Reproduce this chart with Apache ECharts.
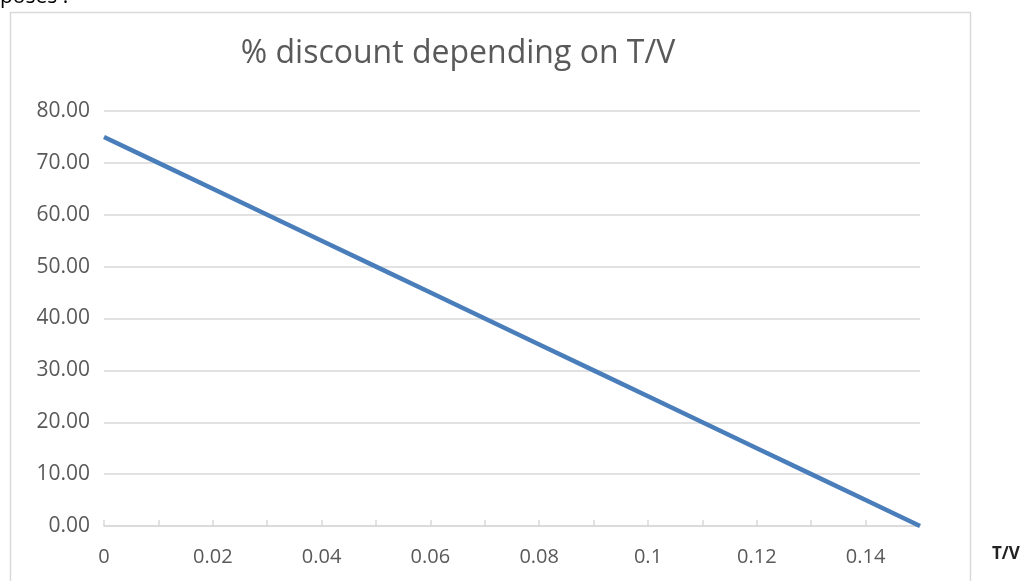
<!DOCTYPE html>
<html>
<head>
<meta charset="utf-8">
<script src="https://cdn.jsdelivr.net/npm/echarts@6/dist/echarts.min.js"></script>
<style>html,body{margin:0;padding:0;background:#fff}#c{width:1029px;height:581px}</style>
</head>
<body>
<div id="c"></div>
<script>
var titleText = '% discount depending on T/V';
var xAxisName = 'T/V';
var tvValues = [0, 0.01, 0.02, 0.03, 0.04, 0.05, 0.06, 0.07, 0.08, 0.09, 0.10, 0.11, 0.12, 0.13, 0.14, 0.15];
var discountValues = [75, 70, 65, 60, 55, 50, 45, 40, 35, 30, 25, 20, 15, 10, 5, 0];
var xTickLabels = ['0', '0.02', '0.04', '0.06', '0.08', '0.1', '0.12', '0.14'];
var yTickLabels = ['0.00', '10.00', '20.00', '30.00', '40.00', '50.00', '60.00', '70.00', '80.00'];

var chart = echarts.init(document.getElementById('c'));
var font = '"Open Sans", "Noto Sans", sans-serif';
var points = tvValues.map(function (x, i) { return [x, discountValues[i]]; });

chart.setOption({
  animation: false,
  textStyle: { fontFamily: font },
  title: {
    text: titleText,
    left: 453, top: 33, textAlign: 'center',
    textStyle: { fontFamily: font, fontSize: 32, fontWeight: 'normal', color: '#595959' }
  },
  graphic: [
    { type: 'rect', shape: { x: 10.5, y: 12.5, width: 960, height: 600 },
      style: { fill: 'none', stroke: '#d9d9d9', lineWidth: 1.5 }, silent: true },
    { type: 'text', left: 0, top: -13,
      style: { text: 'poses :', font: '21px ' + font, fill: '#000' } },
    { type: 'text', left: 992, top: 546,
      style: { text: xAxisName, font: 'bold 17px ' + font, fill: '#222' } }
  ],
  grid: { left: 104, right: 109, top: 111, bottom: 55, containLabel: false },
  xAxis: {
    type: 'value', min: 0, max: 0.15, interval: 0.01,
    axisLine: { show: true, lineStyle: { color: '#d9d9d9', width: 1.5 } },
    axisTick: { show: true, inside: true, length: 6, lineStyle: { color: '#d9d9d9', width: 1.5 } },
    splitLine: { show: false },
    axisLabel: {
      margin: 21, fontSize: 20, color: '#595959', fontFamily: font,
      showMaxLabel: false,
      formatter: function (v) {
        var idx = Math.round(v * 100);
        if (idx % 2 !== 0) return '';
        return xTickLabels[idx / 2] || '';
      }
    }
  },
  yAxis: {
    type: 'value', min: 0, max: 80, interval: 10,
    axisLine: { show: false }, axisTick: { show: false },
    splitLine: { lineStyle: { color: '#d9d9d9', width: 1.5 } },
    axisLabel: {
      margin: 14, fontSize: 21, color: '#595959', fontFamily: font,
      formatter: function (v) { return yTickLabels[Math.round(v / 10)]; }
    }
  },
  series: [{
    type: 'line', data: points, showSymbol: false, symbol: 'none',
    lineStyle: { color: '#4a7ebb', width: 4.5 }, z: 5
  }]
});
</script>
</body>
</html>
